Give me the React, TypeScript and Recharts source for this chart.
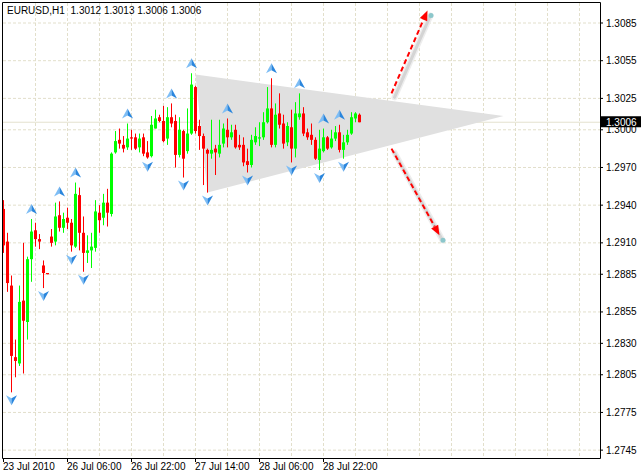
import React from "react";
import {
  ComposedChart,
  Bar,
  Scatter,
  XAxis,
  YAxis,
  CartesianGrid,
  ReferenceLine,
} from "recharts";

// EURUSD H1 bars, oldest first (bar 0 = 23 Jul 2010 14:00)
const opens = [
  1.2937, 1.2911, 1.2876, 1.2819, 1.2814, 1.2864, 1.2847, 1.2897, 1.292, 1.2913,
  1.2892, 1.2886, 1.2915, 1.2911, 1.2932, 1.2922, 1.293, 1.2926, 1.2907, 1.2948,
  1.2918, 1.2902, 1.2904, 1.2906, 1.2934, 1.293, 1.2942, 1.2933, 1.2982, 1.2992,
  1.2988, 1.2986, 1.2994, 1.2994, 1.2986, 1.2994, 1.2982, 1.2979, 1.3001, 1.301,
  1.3007, 1.2993, 1.301, 1.3007, 1.298, 1.2999, 1.2983, 1.2997, 1.3034, 1.3003,
  1.2995, 1.2984, 1.2981, 1.2985, 1.2981, 1.2989, 1.3, 1.2994, 1.3, 1.2988,
  1.2988, 1.2975, 1.2972, 1.299, 1.2993, 1.2994, 1.3006, 1.3017, 1.2988, 1.3013,
  1.3005, 1.299, 1.3002, 1.2985, 1.301, 1.3013, 1.2998, 1.2996, 1.2992, 1.2976,
  1.2983, 1.2994, 1.2986, 1.2993, 1.2998, 1.2984, 1.299, 1.2997, 1.3009, 1.3012,
];
const highs = [
  1.2944, 1.2918, 1.2884, 1.2833, 1.2876, 1.291, 1.2899, 1.2929, 1.2926, 1.2917,
  1.2896, 1.2886, 1.2921, 1.2942, 1.2943, 1.2934, 1.2938, 1.2929, 1.2958, 1.2954,
  1.2931, 1.2916, 1.2918, 1.2944, 1.294, 1.2949, 1.2953, 1.2982, 1.2999, 1.3001,
  1.2995, 1.3005, 1.3, 1.2997, 1.2997, 1.2997, 1.2991, 1.3011, 1.3016, 1.3012,
  1.3019, 1.3018, 1.3021, 1.3012, 1.301, 1.3, 1.3017, 1.3045, 1.3035, 1.3008,
  1.2997, 1.2985, 1.3008, 1.2988, 1.3008, 1.3005, 1.3009, 1.3004, 1.3004, 1.2996,
  1.2994, 1.2985, 1.2996, 1.3002, 1.3006, 1.3014, 1.3034, 1.3041, 1.3021, 1.3029,
  1.3012, 1.3006, 1.3016, 1.3022, 1.3029, 1.3018, 1.3001, 1.3005, 1.2994, 1.3,
  1.3001, 1.2995, 1.3, 1.3003, 1.3004, 1.2996, 1.3, 1.3014, 1.3014, 1.3013,
];
const lows = [
  1.2902, 1.2871, 1.2791, 1.2803, 1.2812, 1.2806, 1.2833, 1.2879, 1.2907, 1.2905,
  1.2874, 1.2885, 1.2907, 1.2908, 1.2919, 1.2918, 1.2921, 1.2903, 1.2906, 1.2904,
  1.2887, 1.2894, 1.289, 1.2903, 1.2918, 1.2924, 1.2923, 1.2931, 1.2981, 1.2985,
  1.2982, 1.2984, 1.2984, 1.2984, 1.2982, 1.2979, 1.2977, 1.2978, 1.3001, 1.3006,
  1.299, 1.2988, 1.3002, 1.297, 1.2978, 1.2962, 1.2981, 1.2996, 1.2997, 1.2984,
  1.2956, 1.295, 1.2977, 1.2964, 1.2978, 1.2986, 1.2986, 1.2992, 1.2985, 1.2984,
  1.2971, 1.2966, 1.297, 1.2988, 1.2987, 1.2992, 1.3005, 1.2986, 1.2986, 1.3001,
  1.2985, 1.2987, 1.2974, 1.2978, 1.3008, 1.2995, 1.2992, 1.2988, 1.2976, 1.2968,
  1.2982, 1.2984, 1.2985, 1.2991, 1.2982, 1.2977, 1.2988, 1.2996, 1.3006, 1.3006,
];
const closes = [
  1.2908, 1.2878, 1.282, 1.2816, 1.2863, 1.2848, 1.2897, 1.2919, 1.2913, 1.2911,
  1.2886, 1.2885, 1.291, 1.2931, 1.2922, 1.2929, 1.2926, 1.2908, 1.2949, 1.2918,
  1.2902, 1.2904, 1.2907, 1.2935, 1.2928, 1.2942, 1.2934, 1.2981, 1.2991, 1.2989,
  1.2985, 1.2993, 1.2993, 1.2985, 1.2993, 1.2981, 1.2978, 1.3004, 1.3009, 1.3007,
  1.2991, 1.301, 1.3005, 1.298, 1.3, 1.2977, 1.2997, 1.3036, 1.2999, 1.2995,
  1.2985, 1.2981, 1.2984, 1.2982, 1.2988, 1.3001, 1.2994, 1.2998, 1.2986, 1.2986,
  1.2974, 1.2972, 1.2992, 1.2995, 1.2994, 1.3006, 1.3017, 1.2988, 1.3012, 1.3004,
  1.2989, 1.3003, 1.2985, 1.3013, 1.3013, 1.2997, 1.2994, 1.2992, 1.2977, 1.2985,
  1.2994, 1.2985, 1.2993, 1.2998, 1.2984, 1.299, 1.2996, 1.301, 1.3013, 1.3006,
];

const symbol = "EURUSD,H1";
const timeTickBars = [0, 16, 32, 48, 64, 80];
const timeTickLabels = [
  "23 Jul 2010",
  "26 Jul 06:00",
  "26 Jul 22:00",
  "27 Jul 14:00",
  "28 Jul 06:00",
  "28 Jul 22:00",
];
const gridBars = [8, 16, 24, 32, 40, 48, 56, 64, 72, 80, 88, 96, 104, 112, 120, 128, 136, 144];
const priceTicks = [
  1.2745, 1.2775, 1.2805, 1.283, 1.2855, 1.2885, 1.291, 1.294, 1.297, 1.3, 1.3025, 1.3055, 1.3085,
];
const lastPrice = 1.3006;

// Bill Williams fractals (bar indexes)
const upFractalBars = [7, 14, 18, 31, 42, 47, 56, 67, 74, 80, 84];
const downFractalBars = [2, 10, 17, 20, 36, 45, 51, 61, 72, 79, 85];

// triangle object and the two breakout arrows
const trianglePoints = [
  { i: 48, p: 1.3044 },
  { i: 125, p: 1.3011 },
  { i: 51, p: 1.295 },
];
const breakoutUp = [
  { i: 97, p: 1.3029 },
  { i: 106, p: 1.3095 },
];
const breakoutDown = [
  { i: 97, p: 1.2985 },
  { i: 109, p: 1.2916 },
];

const xDomain = [-0.125, 149.125];
const yDomain = [1.273874, 1.310092];

const FONT = "'Liberation Sans', Arial, sans-serif";
const GRID = "#E2DFCB";

const candles = opens.map((open, i) => ({
  i,
  open,
  high: highs[i],
  low: lows[i],
  close: closes[i],
  range: [lows[i], highs[i]],
}));
const upFractals = upFractalBars.map((i) => ({ i, p: highs[i] }));
const downFractals = downFractalBars.map((i) => ({ i, p: lows[i] }));

const renderCandle = (props: any) => {
  const { x, y, width, height, payload } = props;
  if (payload == null || x == null) return <g />;
  const cx = x + width / 2;
  const { open, close, high, low } = payload;
  const span = high - low;
  const toY = (v: number) => (span > 0 ? y + ((high - v) / span) * height : y);
  const color = close >= open ? "#00FF00" : "#FF0000";
  const top = toY(Math.max(open, close));
  const bottom = toY(Math.min(open, close));
  return (
    <g>
      <rect x={cx - 0.5} y={y} width={1} height={Math.max(height, 1)} fill={color} />
      <rect x={cx - 1.5} y={top} width={3} height={Math.max(bottom - top, 1)} fill={color} />
    </g>
  );
};

const UpFractal = (props: any) => {
  const { cx, cy } = props;
  const b = cy - 5;
  return (
    <g>
      <polygon points={`${cx},${b - 10} ${cx - 5.5},${b} ${cx},${b - 3}`} fill="#7DBDF5" />
      <polygon points={`${cx},${b - 10} ${cx},${b - 3} ${cx + 5.5},${b}`} fill="#2A86DD" />
    </g>
  );
};

const DownFractal = (props: any) => {
  const { cx, cy } = props;
  const t = cy + 3;
  return (
    <g>
      <polygon points={`${cx},${t + 10} ${cx - 5.5},${t} ${cx},${t + 3}`} fill="#7DBDF5" />
      <polygon points={`${cx},${t + 10} ${cx},${t + 3} ${cx + 5.5},${t}`} fill="#2A86DD" />
    </g>
  );
};

const Hidden = () => <g />;

const TrianglePolygon = (props: any) => {
  const pts = props.points || [];
  if (pts.length < 3) return <g />;
  return (
    <polygon
      points={pts.map((pt: any) => `${pt.x},${pt.y}`).join(" ")}
      fill="#E0E0E0"
      stroke="none"
    />
  );
};

const TrendArrow = (props: any) => {
  const pts = props.points || [];
  if (pts.length < 2) return <g />;
  const [s, e] = pts;
  const dx = e.x - s.x;
  const dy = e.y - s.y;
  const len = Math.hypot(dx, dy) || 1;
  const ux = dx / len;
  const uy = dy / len;
  const nx = -uy;
  const ny = ux;
  const head = 10;
  const half = 4;
  const bx = e.x - ux * head;
  const by = e.y - uy * head;
  return (
    <g>
      <line x1={s.x + 3} y1={s.y + 4} x2={e.x + 3} y2={e.y + 5} stroke="#EDEDED" strokeWidth={6} strokeLinecap="round" />
      <line x1={s.x + 3} y1={s.y + 4} x2={e.x + 3} y2={e.y + 5} stroke="#D4D4D4" strokeWidth={3} strokeLinecap="round" />
      <circle cx={e.x + 3.5} cy={e.y + 5} r={2.5} fill="#8CC7CB" />
      <line x1={s.x} y1={s.y} x2={bx} y2={by} stroke="#FF0000" strokeWidth={2} strokeDasharray="5 3" />
      <polygon
        points={`${e.x},${e.y} ${bx + nx * half},${by + ny * half} ${bx - nx * half},${by - ny * half}`}
        fill="#FF0000"
      />
    </g>
  );
};

const renderTimeTick = (props: any) => {
  const { x, y, payload } = props;
  const k = timeTickBars.indexOf(payload.value);
  if (k < 0) return <g />;
  return (
    <text x={x - 0.5} y={y} dy="0.71em" textAnchor="start" fill="#000" fontSize={10} fontFamily={FONT}>
      {timeTickLabels[k]}
    </text>
  );
};

const renderPriceTick = (props: any) => {
  const { x, y, payload } = props;
  const v = payload.value as number;
  if (v === lastPrice) {
    return (
      <g>
        <rect x={x - 6} y={y - 6} width={41} height={11} fill="#000" />
        <text x={x} y={y} dy="0.355em" fill="#fff" fontSize={10} fontFamily={FONT}>
          {v.toFixed(4)}
        </text>
      </g>
    );
  }
  return (
    <text x={x} y={y} dy="0.355em" fill="#000" fontSize={10} fontFamily={FONT}>
      {v.toFixed(4)}
    </text>
  );
};

const last = opens.length - 1;
const quote = [opens[last], highs[last], lows[last], closes[last]].map((v) => v.toFixed(4)).join(" ");

export default function App() {
  return (
    <div style={{ position: "absolute", left: 0, top: 0, width: 641, height: 475, background: "#fff" }}>
      <ComposedChart
        width={641}
        height={475}
        data={candles}
        margin={{ top: 3, right: 0, bottom: 0, left: 3 }}
      >
        <CartesianGrid
          stroke={GRID}
          strokeDasharray="3 2"
          horizontalValues={priceTicks}
          verticalValues={gridBars}
        />
        <ReferenceLine y={lastPrice} stroke="#E4E1CE" zIndex={-50} />
        <Scatter
          data={trianglePoints}
          dataKey="p"
          shape={Hidden}
          line={<TrianglePolygon />}
          legendType="none"
          isAnimationActive={false}
          zIndex={150}
        />
        <Bar dataKey="range" barSize={2} shape={renderCandle} isAnimationActive={false} />
        <Scatter data={upFractals} dataKey="p" shape={UpFractal} legendType="none" isAnimationActive={false} />
        <Scatter data={downFractals} dataKey="p" shape={DownFractal} legendType="none" isAnimationActive={false} />
        <Scatter
          data={breakoutUp}
          dataKey="p"
          shape={Hidden}
          line={<TrendArrow />}
          legendType="none"
          isAnimationActive={false}
        />
        <Scatter
          data={breakoutDown}
          dataKey="p"
          shape={Hidden}
          line={<TrendArrow />}
          legendType="none"
          isAnimationActive={false}
        />
        <XAxis
          dataKey="i"
          type="number"
          domain={xDomain}
          allowDataOverflow
          ticks={timeTickBars}
          interval={0}
          height={17}
          tickSize={4}
          tickMargin={1}
          axisLine={false}
          tickLine={{ stroke: "#000" }}
          tick={renderTimeTick}
        />
        <YAxis
          type="number"
          orientation="right"
          domain={yDomain}
          allowDataOverflow
          ticks={[...priceTicks, lastPrice]}
          interval={0}
          width={41}
          tickSize={3}
          tickMargin={3}
          axisLine={false}
          tickLine={{ stroke: "#000" }}
          tick={renderPriceTick}
        />
      </ComposedChart>
      <svg
        width={641}
        height={475}
        style={{ position: "absolute", left: 0, top: 0, pointerEvents: "none" }}
      >
        <path d="M2.5 458.5 V2.5 H600.5 V458.5 Z" fill="none" stroke="#000" strokeWidth={1} />
        <text x={7} y={14} fontSize={10} fontFamily={FONT} fill="#000">
          {symbol}
          <tspan dx={6.5}>{quote}</tspan>
        </text>
      </svg>
    </div>
  );
}
